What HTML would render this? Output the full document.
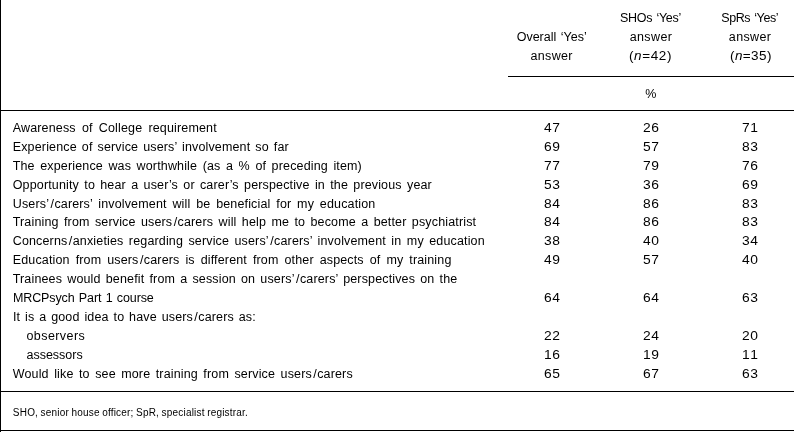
<!DOCTYPE html>
<html><head><meta charset="utf-8"><style>
html,body{margin:0;padding:0;background:#fff;}
body{width:794px;height:432px;position:relative;overflow:hidden;font-family:"Liberation Sans",sans-serif;color:#000;}
.t{position:absolute;white-space:nowrap;line-height:20px;height:20px;font-size:12.5px;transform-origin:0 0;}
.w{position:absolute;left:0;top:0;width:794px;height:432px;will-change:transform;}
b{font-weight:normal;margin-left:1.4px;margin-right:0.3px}
.l{position:absolute;background:#000;}
</style></head><body>

<div class="w">
<div class="l" style="left:0;top:0;width:1px;height:432px"></div>
<div class="l" style="left:508px;top:76px;width:286px;height:1px"></div>
<div class="l" style="left:0;top:110px;width:794px;height:1px"></div>
<div class="l" style="left:0;top:391px;width:794px;height:1px"></div>
<div class="l" style="left:0;top:430px;width:794px;height:1px"></div>
<div class="t" style="left:12.74px;top:118px;letter-spacing:0.150px;word-spacing:2.576px">Awareness of College requirement</div>
<div class="t" style="left:543.98px;top:118px;letter-spacing:0.439px;font-size:13.3px;transform:scaleX(1.04)">47</div>
<div class="t" style="left:643.18px;top:118px;letter-spacing:0.439px;font-size:13.3px;transform:scaleX(1.04)">26</div>
<div class="t" style="left:742.08px;top:118px;letter-spacing:0.439px;font-size:13.3px;transform:scaleX(1.04)">71</div>
<div class="t" style="left:12.74px;top:137px;letter-spacing:0.150px;word-spacing:1.393px">Experience of service users’ involvement so far</div>
<div class="t" style="left:543.98px;top:137px;letter-spacing:0.439px;font-size:13.3px;transform:scaleX(1.04)">69</div>
<div class="t" style="left:643.18px;top:137px;letter-spacing:0.439px;font-size:13.3px;transform:scaleX(1.04)">57</div>
<div class="t" style="left:742.08px;top:137px;letter-spacing:0.439px;font-size:13.3px;transform:scaleX(1.04)">83</div>
<div class="t" style="left:12.74px;top:156px;letter-spacing:0.150px;word-spacing:1.890px">The experience was worthwhile (as a % of preceding item)</div>
<div class="t" style="left:543.98px;top:156px;letter-spacing:0.439px;font-size:13.3px;transform:scaleX(1.04)">77</div>
<div class="t" style="left:643.18px;top:156px;letter-spacing:0.439px;font-size:13.3px;transform:scaleX(1.04)">79</div>
<div class="t" style="left:742.08px;top:156px;letter-spacing:0.439px;font-size:13.3px;transform:scaleX(1.04)">76</div>
<div class="t" style="left:12.74px;top:175px;letter-spacing:0.150px;word-spacing:1.648px">Opportunity to hear a user’s or carer’s perspective in the previous year</div>
<div class="t" style="left:543.98px;top:175px;letter-spacing:0.439px;font-size:13.3px;transform:scaleX(1.04)">53</div>
<div class="t" style="left:643.18px;top:175px;letter-spacing:0.439px;font-size:13.3px;transform:scaleX(1.04)">36</div>
<div class="t" style="left:742.08px;top:175px;letter-spacing:0.439px;font-size:13.3px;transform:scaleX(1.04)">69</div>
<div class="t" style="left:12.74px;top:194px;letter-spacing:0.150px;word-spacing:2.170px">Users’<b>/</b>carers’ involvement will be beneficial for my education</div>
<div class="t" style="left:543.98px;top:194px;letter-spacing:0.439px;font-size:13.3px;transform:scaleX(1.04)">84</div>
<div class="t" style="left:643.18px;top:194px;letter-spacing:0.439px;font-size:13.3px;transform:scaleX(1.04)">86</div>
<div class="t" style="left:742.08px;top:194px;letter-spacing:0.439px;font-size:13.3px;transform:scaleX(1.04)">83</div>
<div class="t" style="left:12.74px;top:212px;letter-spacing:0.150px;word-spacing:1.724px">Training from service users<b>/</b>carers will help me to become a better psychiatrist</div>
<div class="t" style="left:543.98px;top:212px;letter-spacing:0.439px;font-size:13.3px;transform:scaleX(1.04)">84</div>
<div class="t" style="left:643.18px;top:212px;letter-spacing:0.439px;font-size:13.3px;transform:scaleX(1.04)">86</div>
<div class="t" style="left:742.08px;top:212px;letter-spacing:0.439px;font-size:13.3px;transform:scaleX(1.04)">83</div>
<div class="t" style="left:12.74px;top:231px;letter-spacing:0.150px;word-spacing:1.802px">Concerns<b>/</b>anxieties regarding service users’<b>/</b>carers’ involvement in my education</div>
<div class="t" style="left:543.98px;top:231px;letter-spacing:0.439px;font-size:13.3px;transform:scaleX(1.04)">38</div>
<div class="t" style="left:643.18px;top:231px;letter-spacing:0.439px;font-size:13.3px;transform:scaleX(1.04)">40</div>
<div class="t" style="left:742.08px;top:231px;letter-spacing:0.439px;font-size:13.3px;transform:scaleX(1.04)">34</div>
<div class="t" style="left:12.74px;top:250px;letter-spacing:0.150px;word-spacing:2.325px">Education from users<b>/</b>carers is different from other aspects of my training</div>
<div class="t" style="left:543.98px;top:250px;letter-spacing:0.439px;font-size:13.3px;transform:scaleX(1.04)">49</div>
<div class="t" style="left:643.18px;top:250px;letter-spacing:0.439px;font-size:13.3px;transform:scaleX(1.04)">57</div>
<div class="t" style="left:742.08px;top:250px;letter-spacing:0.439px;font-size:13.3px;transform:scaleX(1.04)">40</div>
<div class="t" style="left:12.74px;top:269px;letter-spacing:0.150px;word-spacing:1.507px">Trainees would benefit from a session on users’<b>/</b>carers’ perspectives on the</div>
<div class="t" style="left:12.94px;top:288px;letter-spacing:-0.119px;word-spacing:1.000px">MRCPsych Part 1 course</div>
<div class="t" style="left:543.98px;top:288px;letter-spacing:0.439px;font-size:13.3px;transform:scaleX(1.04)">64</div>
<div class="t" style="left:643.18px;top:288px;letter-spacing:0.439px;font-size:13.3px;transform:scaleX(1.04)">64</div>
<div class="t" style="left:742.08px;top:288px;letter-spacing:0.439px;font-size:13.3px;transform:scaleX(1.04)">63</div>
<div class="t" style="left:12.94px;top:307px;letter-spacing:0.150px;word-spacing:1.229px">It is a good idea to have users<b>/</b>carers as:</div>
<div class="t" style="left:26.44px;top:326px;letter-spacing:0.429px">observers</div>
<div class="t" style="left:543.98px;top:326px;letter-spacing:0.439px;font-size:13.3px;transform:scaleX(1.04)">22</div>
<div class="t" style="left:643.18px;top:326px;letter-spacing:0.439px;font-size:13.3px;transform:scaleX(1.04)">24</div>
<div class="t" style="left:742.08px;top:326px;letter-spacing:0.439px;font-size:13.3px;transform:scaleX(1.04)">20</div>
<div class="t" style="left:26.44px;top:345px;letter-spacing:0.005px">assessors</div>
<div class="t" style="left:543.98px;top:345px;letter-spacing:0.439px;font-size:13.3px;transform:scaleX(1.04)">16</div>
<div class="t" style="left:643.18px;top:345px;letter-spacing:0.439px;font-size:13.3px;transform:scaleX(1.04)">19</div>
<div class="t" style="left:742.08px;top:345px;letter-spacing:1.423px;font-size:13.3px;transform:scaleX(1.04)">11</div>
<div class="t" style="left:12.74px;top:364px;letter-spacing:0.150px;word-spacing:1.831px">Would like to see more training from service users<b>/</b>carers</div>
<div class="t" style="left:543.98px;top:364px;letter-spacing:0.439px;font-size:13.3px;transform:scaleX(1.04)">65</div>
<div class="t" style="left:643.18px;top:364px;letter-spacing:0.439px;font-size:13.3px;transform:scaleX(1.04)">67</div>
<div class="t" style="left:742.08px;top:364px;letter-spacing:0.439px;font-size:13.3px;transform:scaleX(1.04)">63</div>
<div class="t" style="left:516.69px;top:27px;letter-spacing:0.001px;word-spacing:1.000px">Overall ‘Yes’</div>
<div class="t" style="left:530.54px;top:46px;letter-spacing:0.326px">answer</div>
<div class="t" style="left:619.94px;top:8px;letter-spacing:-0.271px;word-spacing:1.000px">SHOs ‘Yes’</div>
<div class="t" style="left:629.74px;top:27px;letter-spacing:0.366px">answer</div>
<div class="t" style="left:629.09px;top:46px;letter-spacing:0.555px;transform:scaleX(1.08)">(<i>n</i>=42)</div>
<div class="t" style="left:721.19px;top:8px;letter-spacing:-0.397px;word-spacing:1.000px">SpRs ‘Yes’</div>
<div class="t" style="left:728.84px;top:27px;letter-spacing:0.366px">answer</div>
<div class="t" style="left:729.69px;top:46px;letter-spacing:0.369px;transform:scaleX(1.08)">(<i>n</i>=35)</div>
<div class="t" style="left:645.19px;top:84px">%</div>
<div class="t" style="left:12.85px;top:403px;letter-spacing:0.200px;word-spacing:-0.517px;font-size:10.0px">SHO, senior house officer; SpR, specialist registrar.</div>
</div>
</body></html>
